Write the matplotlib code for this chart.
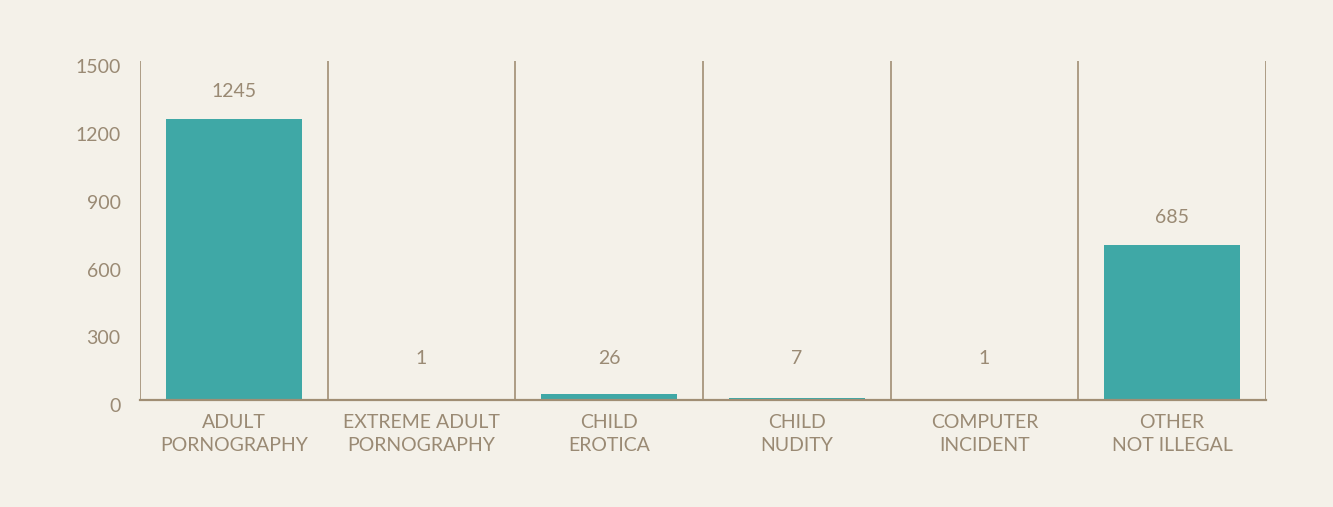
import matplotlib.pyplot as plt
import matplotlib.transforms as mtransforms
import numpy as np

categories = [
    'ADULT\nPORNOGRAPHY',
    'EXTREME ADULT\nPORNOGRAPHY',
    'CHILD\nEROTICA',
    'CHILD\nNUDITY',
    'COMPUTER\nINCIDENT',
    'OTHER\nNOT ILLEGAL',
]
counts = [1245, 1, 26, 7, 1, 685]
y_ticks = [0, 300, 600, 900, 1200, 1500]

BG = '#f4f1e9'
BAR = '#3fa8a6'
LINE = '#a08e74'
TEXT = '#9a8a74'

plt.rcParams['font.family'] = ['Lato', 'DejaVu Sans']


def main() -> None:
    fig = plt.figure(figsize=(13.33, 5.07), dpi=100, facecolor=BG)
    ax = fig.add_axes([0.105, 0.211, 0.8447, 0.6677])
    ax.set_facecolor(BG)

    x = np.arange(len(categories))
    ax.bar(x, counts, width=0.725, color=BAR, zorder=2)

    # separators between categories
    ax.vlines(np.arange(len(categories) + 1) - 0.5, 0, 1500,
              color=LINE, linewidth=1.2, zorder=1)

    # value labels, kept clear of the baseline for tiny bars
    for xi, v in zip(x, counts):
        ax.text(xi, max(v, 62) + 124, str(v), ha='center', va='center',
                fontsize=14, color=TEXT)

    ax.set_xlim(-0.5, len(categories) - 0.5)
    ax.set_ylim(0, 1500)
    ax.set_xticks(x)
    ax.set_xticklabels(categories, fontsize=14, color=TEXT, linespacing=1.4)
    ax.set_yticks(y_ticks)
    ax.set_yticklabels([str(t) for t in y_ticks], fontsize=14, color=TEXT)
    ax.tick_params(axis='both', length=0)
    ax.tick_params(axis='y', pad=14)
    ax.tick_params(axis='x', pad=10)

    # y labels sit a little below their gridline level in the original
    shift = mtransforms.ScaledTranslation(0, -5 / 100, fig.dpi_scale_trans)
    for lab in ax.get_yticklabels():
        lab.set_transform(lab.get_transform() + shift)

    for side in ('top', 'right', 'left'):
        ax.spines[side].set_visible(False)
    ax.spines['bottom'].set_color(LINE)
    ax.spines['bottom'].set_linewidth(1.6)

    fig.savefig('out.png', dpi=100, facecolor=BG)


if __name__ == '__main__':
    main()
